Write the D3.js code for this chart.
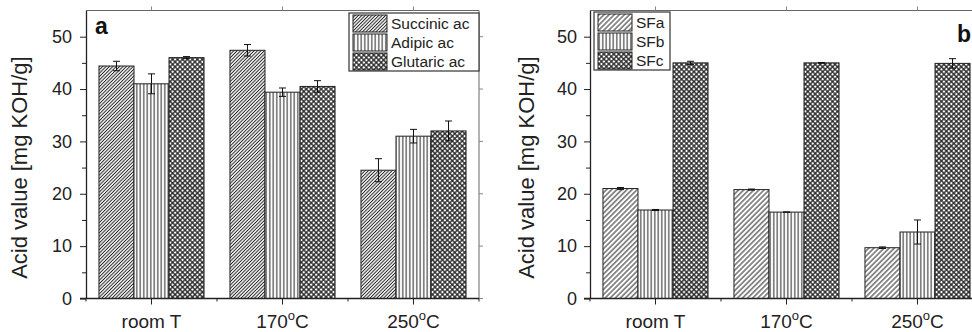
<!DOCTYPE html>
<html>
<head>
<meta charset="utf-8">
<script src="https://cdn.jsdelivr.net/npm/d3@7"></script>
<style>
  body { margin: 0; background: #fff; }
  svg { display: block; font-family: "Liberation Sans", Arial, sans-serif; }
</style>
</head>
<body>
<svg id="chart" width="972" height="332"></svg>
<script>
// Data
const categories = ['room T', '170°C', '250°C'];
const yTicks = [0, 10, 20, 30, 40, 50];
const yMinor = [5, 15, 25, 35, 45];

const acidNames = ['Succinic ac', 'Adipic ac', 'Glutaric ac'];
const succinic = [44.4, 47.4, 24.5];
const succinicErr = [0.9, 1.1, 2.2];
const adipic = [41.0, 39.4, 31.0];
const adipicErr = [1.9, 0.8, 1.3];
const glutaric = [46.0, 40.5, 32.0];
const glutaricErr = [0.2, 1.1, 1.9];

const sfNames = ['SFa', 'SFb', 'SFc'];
const sfa = [21.0, 20.8, 9.7];
const sfaErr = [0.2, 0.1, 0.15];
const sfb = [16.9, 16.5, 12.7];
const sfbErr = [0.1, 0, 2.3];
const sfc = [45.0, 45.0, 44.9];
const sfcErr = [0.3, 0.05, 0.9];

var svg = d3.select('#chart');
var defs = svg.append('defs');

// hatch patterns
function linePattern(id, gap, angle, cross, width) {
  var p = defs.append('pattern')
    .attr('id', id)
    .attr('patternUnits', 'userSpaceOnUse')
    .attr('width', gap).attr('height', gap)
    .attr('patternTransform', 'rotate(' + angle + ')');
  p.append('rect').attr('width', gap).attr('height', gap).attr('fill', '#fff');
  var d = 'M' + gap / 2 + ',0 V' + gap;
  if (cross) d += ' M0,' + gap / 2 + ' H' + gap;
  p.append('path').attr('d', d).attr('stroke', '#222').attr('stroke-width', width);
}
linePattern('diagA', 2.4, 45, false, 1);
linePattern('diagB', 3.6, 45, false, 1);
linePattern('vert', 3.5, 0, false, 1);
linePattern('cross', 3.5, 45, true, 1.3);

var y = d3.scaleLinear().domain([0, 55]).range([298.5, 10.5]);

function drawPanel(opt) {
  var g = svg.append('g').attr('transform', 'translate(' + opt.left + ',0)');
  var w = 393;

  var x0 = d3.scaleBand().domain(categories).range([0, w]);
  var x1 = d3.scaleBand().domain(opt.names).range([0, x0.bandwidth()]).paddingOuter(0.37);

  // bars
  opt.names.forEach(function(name, i) {
    var vals = opt.values[i], errs = opt.errors[i];
    g.selectAll('.bar' + i)
      .data(categories)
      .join('rect')
      .attr('x', function(c) { return x0(c) + x1(name); })
      .attr('y', function(c, j) { return y(vals[j]); })
      .attr('width', x1.bandwidth())
      .attr('height', function(c, j) { return y(0) - y(vals[j]); })
      .attr('fill', 'url(#' + opt.fills[i] + ')')
      .attr('stroke', '#222')
      .attr('stroke-width', 1);

    var eb = g.selectAll('.err' + i)
      .data(categories)
      .join('g')
      .attr('transform', function(c) {
        return 'translate(' + (x0(c) + x1(name) + x1.bandwidth() / 2) + ',0)';
      });
    eb.append('path')
      .attr('d', function(c, j) {
        var hi = y(vals[j] + errs[j]), lo = y(vals[j] - errs[j]);
        return 'M0,' + hi + ' V' + lo + ' M-3.5,' + hi + ' H3.5 M-3.5,' + lo + ' H3.5';
      })
      .attr('stroke', '#111')
      .attr('fill', 'none')
      .attr('stroke-width', 1);
  });

  // frame top and right
  g.append('path')
    .attr('d', 'M0,' + y(55) + ' H' + w + ' V' + y(0))
    .attr('stroke', '#666').attr('fill', 'none');
  g.selectAll('.topTick')
    .data(categories)
    .join('line')
    .attr('x1', function(c) { return x0(c) + x0.bandwidth() / 2; })
    .attr('x2', function(c) { return x0(c) + x0.bandwidth() / 2; })
    .attr('y1', y(55)).attr('y2', y(55) - 4)
    .attr('stroke', '#888');
  g.selectAll('.rightTick')
    .data(yTicks)
    .join('line')
    .attr('x1', w).attr('x2', w + 4)
    .attr('y1', function(d) { return y(d); })
    .attr('y2', function(d) { return y(d); })
    .attr('stroke', '#888');

  // y axis
  var ya = g.append('g')
    .call(d3.axisLeft(y).tickValues(yTicks).tickSize(6).tickPadding(opt.pad).tickSizeOuter(0));
  ya.select('.domain').attr('stroke', '#222').attr('stroke-width', 1.3);
  ya.selectAll('.tick line').attr('stroke', '#222');
  ya.selectAll('text').attr('font-size', 18).attr('fill', '#222')
    .attr('font-family', '"Liberation Sans", Arial, sans-serif');
  g.append('g')
    .call(d3.axisLeft(y).tickValues(yMinor).tickSize(4).tickFormat('').tickSizeOuter(0))
    .call(function(s) { s.select('.domain').remove(); })
    .selectAll('line').attr('stroke', '#222');

  // x axis
  var edges = d3.range(categories.length + 1).map(function(i) { return i * x0.step(); });
  g.append('line')
    .attr('x1', -6).attr('x2', w)
    .attr('y1', y(0)).attr('y2', y(0))
    .attr('stroke', '#222').attr('stroke-width', 1.6);
  g.selectAll('.xMinor')
    .data(edges)
    .join('line')
    .attr('x1', function(d) { return d; }).attr('x2', function(d) { return d; })
    .attr('y1', y(0)).attr('y2', y(0) + 3)
    .attr('stroke', '#222');
  g.selectAll('.xMajor')
    .data(categories)
    .join('line')
    .attr('x1', function(c) { return x0(c) + x0.bandwidth() / 2; })
    .attr('x2', function(c) { return x0(c) + x0.bandwidth() / 2; })
    .attr('y1', y(0)).attr('y2', y(0) + 6)
    .attr('stroke', '#222');

  var lab = g.selectAll('.xLabel')
    .data(categories)
    .join('text')
    .attr('x', function(c) { return x0(c) + x0.bandwidth() / 2; })
    .attr('y', 328)
    .attr('text-anchor', 'middle')
    .attr('font-size', 19)
    .attr('fill', '#222');
  lab.each(function(c) {
    var t = d3.select(this);
    var parts = c.split('°');
    t.append('tspan').text(parts[0]);
    if (parts.length > 1) {
      t.append('tspan').attr('dy', -8).attr('font-size', 13).text('o');
      t.append('tspan').attr('dy', 8).text(parts[1]);
    }
  });

  // y title
  g.append('text')
    .attr('transform', 'translate(' + opt.titleX + ',' + y(25) + ') rotate(-90)')
    .attr('text-anchor', 'middle')
    .attr('font-size', 22)
    .attr('fill', '#222')
    .text('Acid value [mg KOH/g]');

  // panel letter
  svg.append('text')
    .attr('x', opt.letterX).attr('y', opt.letterY)
    .attr('font-size', 23).attr('font-weight', 'bold').attr('fill', '#111')
    .text(opt.letter);

  // legend
  var lg = svg.append('g').attr('transform', 'translate(' + opt.legend[0] + ',' + opt.legend[1] + ')');
  lg.append('rect')
    .attr('width', opt.legend[2]).attr('height', 58)
    .attr('fill', '#fff').attr('stroke', '#333').attr('stroke-width', 1.2);
  opt.names.forEach(function(name, i) {
    lg.append('rect')
      .attr('x', 4).attr('y', 2 + i * 19)
      .attr('width', 34).attr('height', 17)
      .attr('fill', 'url(#' + opt.fills[i] + ')')
      .attr('stroke', '#222');
    lg.append('text')
      .attr('x', 42).attr('y', 16 + i * 19)
      .attr('font-size', 15.5).attr('fill', '#222')
      .text(name);
  });
}

drawPanel({
  left: 86, pad: 8, titleX: -59,
  names: acidNames,
  values: [succinic, adipic, glutaric],
  errors: [succinicErr, adipicErr, glutaricErr],
  fills: ['diagA', 'vert', 'cross'],
  letter: 'a', letterX: 95, letterY: 34,
  legend: [349, 13, 130]
});

drawPanel({
  left: 590, pad: 7, titleX: -56,
  names: sfNames,
  values: [sfa, sfb, sfc],
  errors: [sfaErr, sfbErr, sfcErr],
  fills: ['diagB', 'vert', 'cross'],
  letter: 'b', letterX: 957, letterY: 42,
  legend: [594, 12, 76]
});
</script>
</body>
</html>
